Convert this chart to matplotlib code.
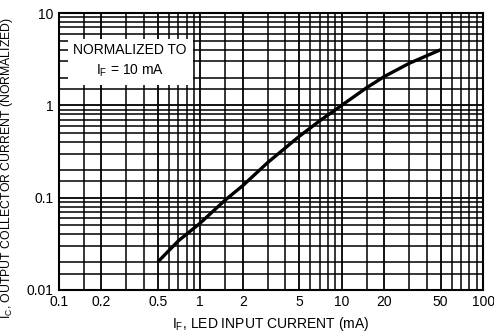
import matplotlib
matplotlib.use("Agg")
import matplotlib.pyplot as plt
from matplotlib.ticker import FixedLocator, NullFormatter

# Data
i_f = [0.5, 0.7, 1.0, 1.5, 2.0, 3.0, 5.0, 7.0, 10.0, 15.0, 20.0, 30.0, 50.0]
i_c = [0.02, 0.034, 0.053, 0.094, 0.135, 0.24, 0.46, 0.68, 1.0, 1.55, 2.05, 2.85, 4.0]

x_ticks = [0.1, 0.2, 0.5, 1, 2, 5, 10, 20, 50, 100]
x_tick_labels = ["0.1", "0.2", "0.5", "1", "2", "5", "10", "20", "50", "100"]
y_ticks = [0.01, 0.1, 1, 10]
y_tick_labels = ["0.01", "0.1", "1", "10"]

plt.rcParams['font.family'] = ['Liberation Sans', 'DejaVu Sans']
plt.rcParams['mathtext.fontset'] = 'custom'

fig = plt.figure(figsize=(4.94, 3.34), dpi=100)
ax = fig.add_axes([0.119, 0.132, 0.859, 0.829])
ax.set_xscale('log')
ax.set_yscale('log')
ax.set_xlim(0.1, 100)
ax.set_ylim(0.01, 10)

subs = [1.5, 2, 3, 4, 5, 6, 7, 8, 9]
xminor = [s * d for d in [0.1, 1, 10] for s in subs]
yminor = [s * d for d in [0.01, 0.1, 1] for s in subs]
ax.xaxis.set_major_locator(FixedLocator(x_ticks))
ax.xaxis.set_minor_locator(FixedLocator(xminor))
ax.yaxis.set_major_locator(FixedLocator(y_ticks))
ax.yaxis.set_minor_locator(FixedLocator(yminor))
ax.set_xticklabels(x_tick_labels)
ax.set_yticklabels(y_tick_labels)
ax.xaxis.set_minor_formatter(NullFormatter())
ax.yaxis.set_minor_formatter(NullFormatter())
ax.tick_params(which='both', length=0, labelsize=10, colors='black', pad=4)

ax.grid(True, which='major', color='black', linewidth=1.3)
ax.grid(True, which='minor', color='black', linewidth=1.1)
for sp in ax.spines.values():
    sp.set_linewidth(1.5)
    sp.set_color('black')

ax.plot(i_f, i_c, color='black', linewidth=2.4, solid_capstyle='butt', zorder=5)

ax.text(0.32, 3.0, "NORMALIZED TO\n$\\mathregular{I_F}$ = 10 mA", ha='center', va='center',
        fontsize=10, linespacing=1.5,
        bbox=dict(facecolor='white', edgecolor='none', pad=4), zorder=6)

ax.set_xlabel("$\\mathregular{I_F}$, LED INPUT CURRENT (mA)", fontsize=10, labelpad=4)
ax.set_ylabel("$\\mathregular{I_C}$, OUTPUT COLLECTOR CURRENT (NORMALIZED)", fontsize=8.8)
ax.yaxis.set_label_coords(-0.104, 0.44)

fig.savefig("out.png", dpi=100, facecolor='white')
